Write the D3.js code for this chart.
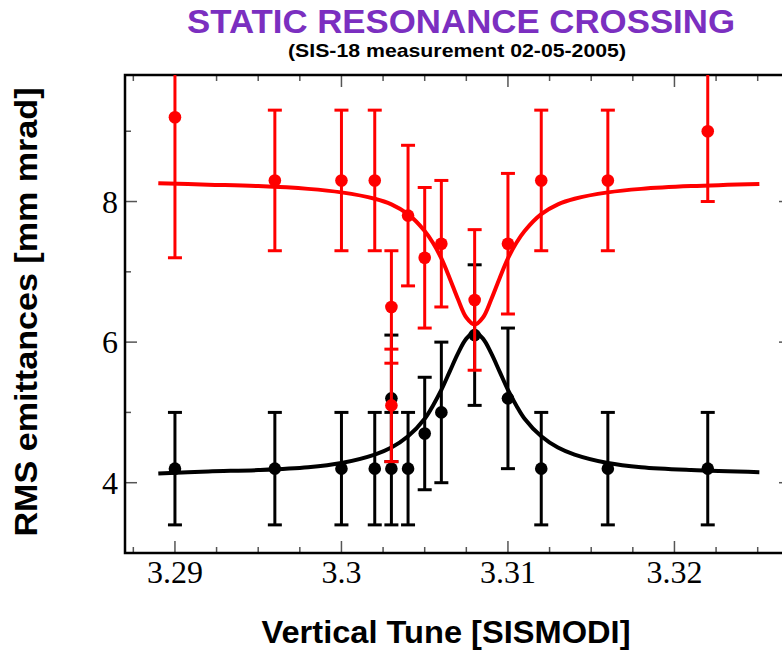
<html>
  <script src="https://d3js.org/d3.v7.min.js"></script>
  <style>
    body {
      margin: 0;
      background: white;
    }
    .title {
      font-family: "Liberation Sans", Arial, sans-serif;
      font-weight: bold;
    }
  </style>
  <body onload="main()">
    <svg width="782" height="654"></svg>
    <script>
      // measured points, tune values
      var tunes_red = [3.29, 3.296, 3.3, 3.302, 3.303, 3.303, 3.304, 3.305, 3.306, 3.308, 3.31, 3.312, 3.316, 3.322];
      var emit_red = [9.2, 8.3, 8.3, 8.3, 6.5, 5.1, 7.8, 7.2, 7.4, 6.6, 7.4, 8.3, 8.3, 9.0];
      var err_red = [2.0, 1.0, 1.0, 1.0, 0.8, 0.8, 1.0, 1.0, 0.9, 1.0, 1.0, 1.0, 1.0, 1.0];

      var tunes_black = [3.29, 3.296, 3.3, 3.302, 3.303, 3.303, 3.304, 3.305, 3.306, 3.308, 3.31, 3.312, 3.316, 3.322];
      var emit_black = [4.2, 4.2, 4.2, 4.2, 4.2, 5.2, 4.2, 4.7, 5.0, 6.1, 5.2, 4.2, 4.2, 4.2];
      var err_black = [0.8, 0.8, 0.8, 0.8, 0.8, 0.9, 0.8, 0.8, 1.0, 1.0, 1.0, 0.8, 0.8, 0.8];

      // fit curves
      var fit_tunes = [3.289, 3.292, 3.295, 3.298, 3.3, 3.302, 3.303, 3.304, 3.305, 3.3055, 3.306, 3.3065, 3.307, 3.3075, 3.308,
                       3.3085, 3.309, 3.3095, 3.31, 3.3105, 3.311, 3.312, 3.313, 3.314, 3.316, 3.318, 3.321, 3.3251];
      var fit_red = [8.26, 8.24, 8.22, 8.18, 8.13, 8.04, 7.96, 7.82, 7.58, 7.41, 7.19, 6.91, 6.61, 6.35, 6.25,
                     6.35, 6.61, 6.91, 7.19, 7.41, 7.58, 7.82, 7.96, 8.04, 8.13, 8.18, 8.22, 8.25];
      var fit_black = [4.13, 4.16, 4.18, 4.22, 4.28, 4.4, 4.5, 4.66, 4.91, 5.1, 5.32, 5.58, 5.84, 6.05, 6.14,
                       6.05, 5.84, 5.58, 5.32, 5.1, 4.91, 4.66, 4.5, 4.4, 4.28, 4.22, 4.18, 4.15];

      var x_ticks = [3.29, 3.3, 3.31, 3.32];
      var y_ticks = [4, 6, 8];

      function main() {
        var left = 125, right = 791, top = 75, bottom = 553;
        var serif = "'Liberation Serif', 'Times New Roman', 'DejaVu Serif', serif";

        var x = d3.scaleLinear().domain([3.287, 3.327]).range([left, right]);
        var y = d3.scaleLinear().domain([3, 9.8]).range([bottom, top]);

        var svg = d3.select("svg");

        svg.append("defs")
          .append("clipPath")
          .attr("id", "plotarea")
          .append("rect")
          .attr("x", left)
          .attr("y", top)
          .attr("width", right - left)
          .attr("height", bottom - top);

        // ticks on all four sides, pointing in
        var minorX = d3.range(3.2875, 3.327, 0.0025);
        var minorY = d3.range(3, 9.81, 1);
        var ticks = svg.append("g").attr("stroke", "#555").attr("stroke-width", 1.5);
        minorX.forEach(function (t) {
          var major = x_ticks.some(function (m) { return Math.abs(m - t) < 1e-6; });
          var len = major ? 12 : 6;
          ticks.append("line").attr("x1", x(t)).attr("x2", x(t)).attr("y1", bottom).attr("y2", bottom - len);
          ticks.append("line").attr("x1", x(t)).attr("x2", x(t)).attr("y1", top).attr("y2", top + len);
        });
        minorY.forEach(function (t) {
          var major = y_ticks.indexOf(Math.round(t)) >= 0;
          var len = major ? 12 : 6;
          ticks.append("line").attr("x1", left).attr("x2", left + len).attr("y1", y(t)).attr("y2", y(t));
          ticks.append("line").attr("x1", right).attr("x2", right - len).attr("y1", y(t)).attr("y2", y(t));
        });

        // frame
        svg.append("rect")
          .attr("x", left)
          .attr("y", top)
          .attr("width", right - left)
          .attr("height", bottom - top)
          .attr("fill", "none")
          .attr("stroke", "black")
          .attr("stroke-width", 2.5);

        // tick labels
        svg.append("g").selectAll("text")
          .data(x_ticks)
          .enter()
          .append("text")
          .attr("font-family", serif)
          .attr("font-size", 32)
          .attr("x", function (d) { return x(d); })
          .attr("y", 583)
          .attr("text-anchor", "middle")
          .text(function (d) { return d3.format("")(d); });

        svg.append("g").selectAll("text")
          .data(y_ticks)
          .enter()
          .append("text")
          .attr("font-family", serif)
          .attr("font-size", 32)
          .attr("x", 118)
          .attr("y", function (d) { return y(d) + 11; })
          .attr("text-anchor", "end")
          .text(function (d) { return d; });

        var plot = svg.append("g").attr("clip-path", "url(#plotarea)");

        var line = d3.line()
          .x(function (d) { return x(d[0]); })
          .y(function (d) { return y(d[1]); })
          .curve(d3.curveCatmullRom.alpha(0.5));

        function drawSeries(tunes, emit, err, fit, color) {
          var g = plot.append("g");
          var pts = tunes.map(function (t, i) { return { t: t, v: emit[i], e: err[i] }; });

          g.selectAll(".bar")
            .data(pts)
            .enter()
            .append("line")
            .attr("x1", function (d) { return x(d.t); })
            .attr("x2", function (d) { return x(d.t); })
            .attr("y1", function (d) { return y(d.v + d.e); })
            .attr("y2", function (d) { return y(d.v - d.e); })
            .attr("stroke", color)
            .attr("stroke-width", 3);

          [1, -1].forEach(function (s) {
            g.selectAll(".cap" + s)
              .data(pts)
              .enter()
              .append("line")
              .attr("x1", function (d) { return x(d.t) - 7; })
              .attr("x2", function (d) { return x(d.t) + 7; })
              .attr("y1", function (d) { return y(d.v + s * d.e); })
              .attr("y2", function (d) { return y(d.v + s * d.e); })
              .attr("stroke", color)
              .attr("stroke-width", 3);
          });

          g.selectAll("circle")
            .data(pts)
            .enter()
            .append("circle")
            .attr("cx", function (d) { return x(d.t); })
            .attr("cy", function (d) { return y(d.v); })
            .attr("r", 6.3)
            .attr("fill", color);

          g.append("path")
            .datum(fit_tunes.map(function (t, i) { return [t, fit[i]]; }))
            .attr("d", line)
            .attr("fill", "none")
            .attr("stroke", color)
            .attr("stroke-width", 4);
        }

        drawSeries(tunes_black, emit_black, err_black, fit_black, "black");
        drawSeries(tunes_red, emit_red, err_red, fit_red, "#ff0000");

        // titles
        svg.append("text")
          .attr("class", "title")
          .attr("x", 461)
          .attr("y", 33)
          .attr("text-anchor", "middle")
          .attr("font-size", 33)
          .attr("textLength", 548)
          .attr("lengthAdjust", "spacingAndGlyphs")
          .attr("fill", "#7b2fc0")
          .text("STATIC RESONANCE CROSSING");

        svg.append("text")
          .attr("class", "title")
          .attr("x", 457)
          .attr("y", 57)
          .attr("text-anchor", "middle")
          .attr("font-size", 19)
          .attr("textLength", 338)
          .attr("lengthAdjust", "spacingAndGlyphs")
          .attr("fill", "black")
          .text("(SIS-18 measurement 02-05-2005)");

        svg.append("text")
          .attr("class", "title")
          .attr("x", 446)
          .attr("y", 643)
          .attr("text-anchor", "middle")
          .attr("font-size", 32)
          .attr("textLength", 369)
          .attr("lengthAdjust", "spacingAndGlyphs")
          .attr("fill", "black")
          .text("Vertical Tune [SISMODI]");

        svg.append("text")
          .attr("class", "title")
          .attr("transform", "translate(37,312) rotate(-90)")
          .attr("text-anchor", "middle")
          .attr("font-size", 32)
          .attr("textLength", 449)
          .attr("lengthAdjust", "spacingAndGlyphs")
          .attr("fill", "black")
          .text("RMS emittances [mm mrad]");
      }
    </script>
  </body>
</html>
